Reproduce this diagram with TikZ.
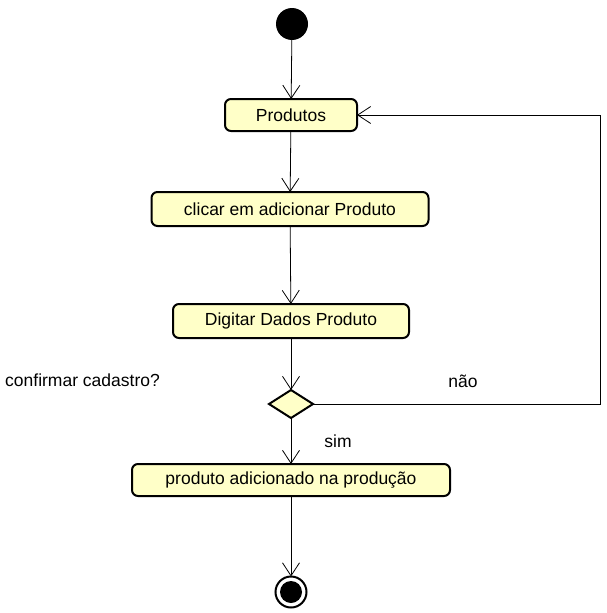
\documentclass[tikz,border=0pt]{standalone}
\usepackage{fontspec}
\setmainfont{Liberation Sans}
\usepackage{xcolor}
\usetikzlibrary{shapes.geometric, arrows.meta}
\definecolor{actfill}{HTML}{FFFFC8}

\begin{document}
\begin{tikzpicture}[
    x=1pt, y=-1pt,
    font=\fontsize{17.5}{20}\selectfont,
    act/.style={draw, line width=2pt, rounded corners=6pt, fill=actfill, minimum height=32pt, inner sep=2pt, outer sep=0pt, align=center},
    dec/.style={diamond, draw, line width=2pt, fill=actfill, minimum width=44pt, minimum height=28pt, aspect=1.57, inner sep=0pt, outer sep=0pt},
    initnode/.style={circle, fill=black, minimum size=32pt, inner sep=0pt},
    endnode/.style={circle, draw, line width=2pt, minimum size=31pt, inner sep=0pt, outer sep=0pt,
      path picture={\fill (path picture bounding box.center) circle (11pt);}},
    flow/.style={-{Straight Barb[length=13pt, width=17pt]}, line width=0.8pt},
    lbl/.style={inner sep=0pt},
  ]
  \useasboundingbox (0,0) rectangle (606,613);
  % Start
  \node[initnode] (inicio) at (292,24) {};
  % Activities
  \node[act, minimum width=132pt] (prod) at (291,115) {Produtos};
  \node[act, minimum width=277pt, minimum height=34pt] (clicar) at (290,209) {clicar em adicionar Produto};
  \node[act, minimum width=236pt, minimum height=34pt] (digitar) at (291,321) {Digitar Dados Produto};
  % Decision
  \node[dec] (conf) at (291,404) {};
  \node[lbl, anchor=west] (confl) at (5,380) {confirmar cadastro?};
  \node[act, minimum width=318pt] (adic) at (291,480) {produto adicionado na produção};
  % End
  \node[endnode] (fim) at (291,592) {};
  % Flows
  \draw[flow] (inicio) -- (prod);
  \draw[flow] (prod) -- (clicar);
  \draw[flow] (clicar) -- (digitar);
  \draw[flow] (digitar) -- (conf);
  \draw[flow] (conf) -- (adic);
  \draw[flow] (adic) -- (fim);
  % Loop back
  \coordinate (volta) at (600,404);
  \draw[flow] (conf.east) -- (volta) |- (prod.east);
  \node[lbl] (nao) at (463,381) {não};
  \node[lbl] (sim) at (338,441) {sim};
\end{tikzpicture}
\end{document}
